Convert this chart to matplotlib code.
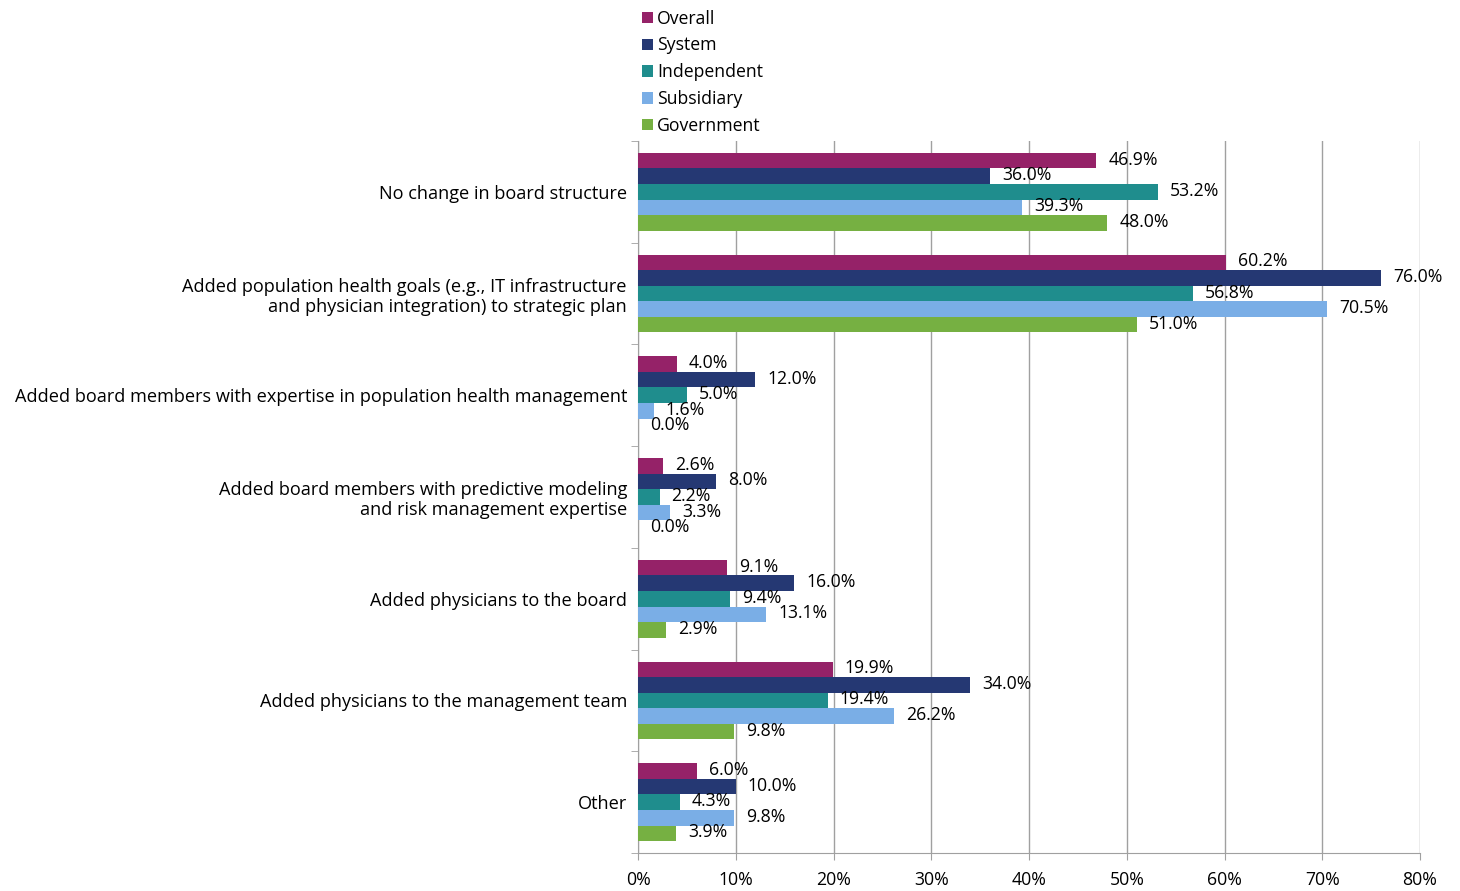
import matplotlib.pyplot as plt
import numpy as np

plt.rcParams['font.family'] = ['Open Sans', 'DejaVu Sans']

categories = [
    'No change in board structure',
    'Added population health goals (e.g., IT infrastructure\nand physician integration) to strategic plan',
    'Added board members with expertise in population health management',
    'Added board members with predictive modeling\nand risk management expertise',
    'Added physicians to the board',
    'Added physicians to the management team',
    'Other',
]
series = ['Overall', 'System', 'Independent', 'Subsidiary', 'Government']
overall = [46.9, 60.2, 4.0, 2.6, 9.1, 19.9, 6.0]
system = [36.0, 76.0, 12.0, 8.0, 16.0, 34.0, 10.0]
independent = [53.2, 56.8, 5.0, 2.2, 9.4, 19.4, 4.3]
subsidiary = [39.3, 70.5, 1.6, 3.3, 13.1, 26.2, 9.8]
government = [48.0, 51.0, 0.0, 0.0, 2.9, 9.8, 3.9]
colors = ['#952268', '#253873', '#1f8d8d', '#7aaee6', '#76b042']

values = [overall, system, independent, subsidiary, government]

fig = plt.figure(figsize=(14.6, 8.91), dpi=100)
ax = fig.add_axes([0.437, 0.0426, 0.5356, 0.7992])

n = len(categories)
y = np.arange(n)
h = 0.153
for k, (name, vals, col) in enumerate(zip(series, values, colors)):
    pos = y - 2 * h + k * h
    ax.barh(pos, vals, height=h, color=col, label=name, zorder=3)
    for p, v in zip(pos, vals):
        ax.annotate(f'{v:.1f}%', (v, p), xytext=(12, 1), textcoords='offset pixels',
                    va='center', ha='left', fontsize=12.7, zorder=4)

ax.set_xlim(0, 80)
ax.set_ylim(n - 0.5, -0.5)
ax.set_xticks(range(0, 81, 10))
ax.set_xticklabels([f'{t}%' for t in range(0, 81, 10)], fontsize=12.7)
ax.set_yticks(y)
ax.set_yticklabels(categories, fontsize=13.1, ha='right', linespacing=1.15)
ax.set_yticks(np.arange(-0.5, n, 1.0), minor=True)
ax.tick_params(axis='y', which='major', length=0, pad=8)
ax.tick_params(axis='y', which='minor', length=5, color='#a0a0a0')
ax.tick_params(axis='x', length=5, color='#a0a0a0', pad=8)
ax.grid(axis='x', color='#a0a0a0', linewidth=1, zorder=0)
for s in ['top', 'right']:
    ax.spines[s].set_visible(False)
for s in ['left', 'bottom']:
    ax.spines[s].set_color('#a0a0a0')

fig.legend(loc='upper left', bbox_to_anchor=(0.4315, 1.003), frameon=False, fontsize=12.7,
           handlelength=0.6, handleheight=0.6, handletextpad=0.25, labelspacing=0.5,
           borderaxespad=0.3)

fig.savefig('out.png', dpi=100)
